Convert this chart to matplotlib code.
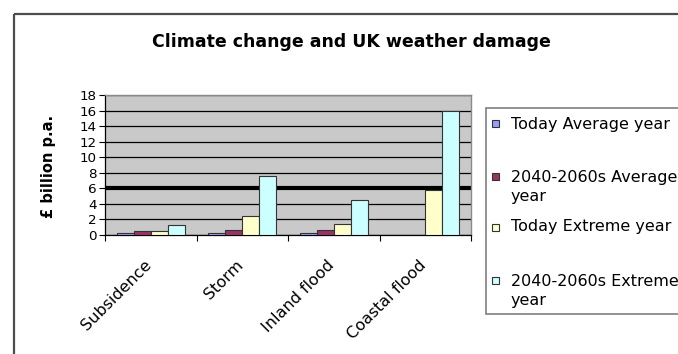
import numpy as np
import matplotlib
matplotlib.use("Agg")
import matplotlib.pyplot as plt
from matplotlib.lines import Line2D
from matplotlib.patches import Rectangle
from matplotlib.transforms import ScaledTranslation

categories = ["Subsidence", "Storm", "Inland flood", "Coastal flood"]
series_names = ["Today Average year", "2040-2060s Average\nyear",
                "Today Extreme year", "2040-2060s Extreme\nyear"]
today_average = [0.3, 0.3, 0.3, np.nan]
future_average = [0.5, 0.7, 0.7, np.nan]
today_extreme = [0.5, 2.5, 1.4, 5.8]
future_extreme = [1.3, 7.6, 4.5, 16.0]
colors = ["#9999ff", "#993366", "#ffffcc", "#ccffff"]
y_ticks = list(range(0, 19, 2))

plt.rcParams["font.family"] = ["DejaVu Sans"]

W, H = 678, 354
fig = plt.figure(figsize=(W / 100, H / 100), dpi=100)
fig.patch.set_facecolor("white")


def fx(px):
    return px / W


def fy(py):
    return 1 - py / H


ax = fig.add_axes([fx(105), fy(235), fx(471) - fx(105), fy(95) - fy(235)])
ax.set_facecolor("#c9c9c9")

x = np.arange(len(categories))
width = 0.187
series = [today_average, future_average, today_extreme, future_extreme]
for i, (vals, col) in enumerate(zip(series, colors)):
    ax.bar(x + (i - 1.5) * width, vals, width, color=col,
           edgecolor="#333333", linewidth=0.8, zorder=3)

ax.set_xlim(-0.5, len(categories) - 0.5)
ax.set_ylim(0, 18)
ax.set_yticks(y_ticks)
ax.set_yticklabels([str(t) for t in y_ticks], fontsize=9.7)
ax.set_axisbelow(True)
ax.yaxis.grid(True, color="black", linewidth=0.9)
ax.axhline(6, color="black", linewidth=3.0, zorder=2)

ax.set_xticks(np.arange(-0.5, len(categories)), minor=False)
ax.set_xticklabels([])
ax.set_xticks(x, minor=True)
ax.set_xticklabels(categories, minor=True, rotation=45, ha="right",
                   va="top", rotation_mode="anchor", fontsize=11.5)
ax.tick_params(axis="x", which="major", direction="out", length=4, width=0.8)
ax.tick_params(axis="x", which="minor", length=0, pad=16)
ax.tick_params(axis="y", direction="out", length=4, width=0.8, pad=2)
shift = ScaledTranslation(-0.07, 0, fig.dpi_scale_trans)
for lab in ax.get_xticklabels(minor=True):
    lab.set_transform(lab.get_transform() + shift)

for side in ["top", "right"]:
    ax.spines[side].set_color("#8a8a8a")
    ax.spines[side].set_linewidth(1.0)
for side in ["left", "bottom"]:
    ax.spines[side].set_color("black")
    ax.spines[side].set_linewidth(0.9)

fig.text(fx(351), fy(42), "Climate change and UK weather damage",
         fontsize=12.5, fontweight="bold", ha="center", va="center")
fig.text(fx(48), fy(166), "£ billion p.a.", rotation=90, fontsize=10.5,
         fontweight="bold", ha="center", va="center")

# chart border (runs off the right and bottom edges)
fig.add_artist(Line2D([fx(14), fx(14)], [-0.05, fy(14)], color="#4d4d4d",
                      lw=1.6, solid_capstyle="butt"))
fig.add_artist(Line2D([fx(14), 1.05], [fy(14), fy(14)], color="#4d4d4d",
                      lw=1.6, solid_capstyle="butt"))

# legend box
fig.add_artist(Rectangle((fx(486), fy(314)), fx(720) - fx(486), fy(108) - fy(314),
                         transform=fig.transFigure, facecolor="white",
                         edgecolor="#7f7f7f", linewidth=1.2))
entry_y = [124, 176, 227, 280]
for name, col, ey in zip(series_names, colors, entry_y):
    s = 7
    fig.add_artist(Rectangle((fx(492), fy(ey + s / 2)), fx(s), s / H,
                             transform=fig.transFigure, facecolor=col,
                             edgecolor="#333333", linewidth=0.8))
    n_lines = name.count("\n") + 1
    cy = ey + (n_lines - 1) * 11
    fig.text(fx(511), fy(cy), name, fontsize=11.5, ha="left", va="center",
             linespacing=1.3)

fig.savefig("out.png", dpi=100)
